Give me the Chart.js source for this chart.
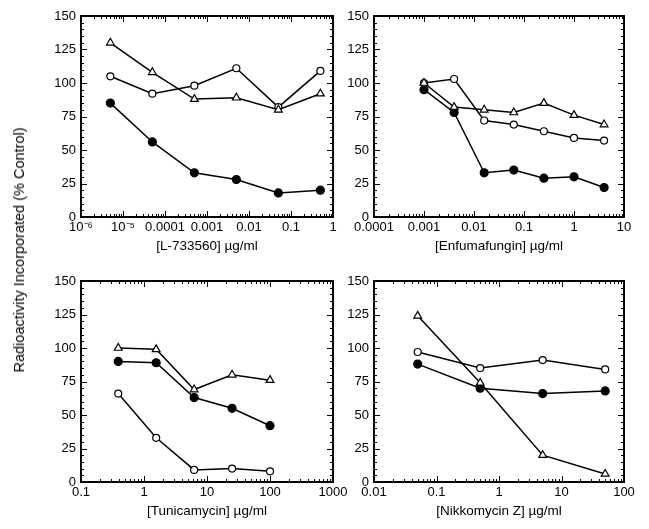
<!DOCTYPE html>
<html>
<head>
<meta charset="utf-8">
<script src="https://cdn.jsdelivr.net/npm/chart.js@4.4.1/dist/chart.umd.min.js"></script>
<style>
  body { margin: 0; background: #fff; }
  #wrap { position: relative; width: 649px; height: 529px; }
  canvas { position: absolute; left: 0; top: 0; }
  #ylab {
    position: absolute; left: 19px; top: 250px;
    transform: translate(-50%, -50%) rotate(-90deg);
    font: 14.5px "Liberation Sans", Arial, sans-serif;
    white-space: nowrap; color: #000;
  }
</style>
</head>
<body>
<div id="wrap">
  <canvas id="c1" width="649" height="529"></canvas>
  <canvas id="c2" width="649" height="529"></canvas>
  <canvas id="c3" width="649" height="529"></canvas>
  <canvas id="c4" width="649" height="529"></canvas>
  <div id="ylab">Radioactivity Incorporated (% Control)</div>
</div>
<script>
// L-733560
const l733Doses = [5e-6, 5e-5, 5e-4, 5e-3, 5e-2, 0.5];
const l733Triangle = [130, 108, 88, 89, 80, 92];
const l733Open = [105, 92, 98, 111, 82, 109];
const l733Filled = [85, 56, 33, 28, 18, 20];
const l733Ticks = [1e-6, 1e-5, 1e-4, 1e-3, 1e-2, 0.1, 1];
const l733TickLabels = ["10⁻⁶", "10⁻⁵", "0.0001", "0.001", "0.01", "0.1", "1"];

// Enfumafungin
const enfDoses = [0.001, 0.004, 0.016, 0.0625, 0.25, 1, 4];
const enfTriangle = [100, 82, 80, 78, 85, 76, 69];
const enfOpen = [100, 103, 72, 69, 64, 59, 57];
const enfFilled = [95, 78, 33, 35, 29, 30, 22];
const enfTicks = [1e-4, 1e-3, 1e-2, 0.1, 1, 10];
const enfTickLabels = ["0.0001", "0.001", "0.01", "0.1", "1", "10"];

// Tunicamycin
const tunDoses = [0.39, 1.56, 6.25, 25, 100];
const tunTriangle = [100, 99, 69, 80, 76];
const tunOpen = [66, 33, 9, 10, 8];
const tunFilled = [90, 89, 63, 55, 42];
const tunTicks = [0.1, 1, 10, 100, 1000];
const tunTickLabels = ["0.1", "1", "10", "100", "1000"];

// Nikkomycin Z
const nikDoses = [0.05, 0.5, 5, 50];
const nikTriangle = [124, 74, 20, 6];
const nikOpen = [97, 85, 91, 84];
const nikFilled = [88, 70, 66, 68];
const nikTicks = [0.01, 0.1, 1, 10, 100];
const nikTickLabels = ["0.01", "0.1", "1", "10", "100"];

const yTicks = [0, 25, 50, 75, 100, 125, 150];

Chart.defaults.font.family = '"Liberation Sans", Arial, sans-serif';
Chart.defaults.color = "#000";

// box with inward ticks on all four sides
const framePlugin = {
  id: "frame",
  beforeDatasetsDraw(chart) {
    const { ctx, chartArea: a, scales: { x, y } } = chart;
    ctx.save();
    ctx.strokeStyle = "#000";
    ctx.lineWidth = 1;
    ctx.beginPath();
    const lo = Math.round(Math.log10(x.min));
    const hi = Math.round(Math.log10(x.max));
    for (let e = lo; e < hi; e++) {
      for (let m = 1; m < 10; m++) {
        const px = Math.round(x.getPixelForValue(m * Math.pow(10, e))) + 0.5;
        const len = m === 1 ? 6 : 3;
        ctx.moveTo(px, a.bottom); ctx.lineTo(px, a.bottom - len);
        ctx.moveTo(px, a.top); ctx.lineTo(px, a.top + len);
      }
    }
    for (let v = 0; v <= 150; v += 5) {
      const py = Math.round(y.getPixelForValue(v)) + 0.5;
      const len = v % 25 === 0 ? 6 : 3;
      ctx.moveTo(a.left, py); ctx.lineTo(a.left + len, py);
      ctx.moveTo(a.right, py); ctx.lineTo(a.right - len, py);
    }
    ctx.stroke();
    ctx.lineWidth = 2;
    ctx.strokeRect(a.left, a.top, a.right - a.left, a.bottom - a.top);
    ctx.restore();
  },
};

function series(doses, vals, style, fill, radius) {
  return {
    data: doses.map((d, i) => ({ x: d, y: vals[i] })),
    borderColor: "#000",
    borderWidth: 1.5,
    pointStyle: style,
    pointRadius: radius,
    pointBorderWidth: 1.2,
    pointBackgroundColor: fill,
    pointBorderColor: "#000",
    tension: 0,
  };
}

function panel(id, area, doses, tri, open, filled, ticks, tickLabels, title) {
  const yW = 45, xH = 37;
  new Chart(document.getElementById(id), {
    type: "line",
    data: {
      datasets: [
        series(doses, tri, "triangle", "#fff", 4.5),
        series(doses, open, "circle", "#fff", 3.5),
        series(doses, filled, "circle", "#000", 4),
      ],
    },
    options: {
      responsive: false,
      animation: false,
      layout: {
        padding: { left: area.l - yW, top: area.t, right: 649 - area.r, bottom: 529 - area.b - xH },
      },
      plugins: { legend: { display: false }, tooltip: { enabled: false } },
      scales: {
        x: {
          type: "logarithmic",
          min: ticks[0],
          max: ticks[ticks.length - 1],
          grid: { display: false, drawTicks: false },
          border: { display: false },
          afterBuildTicks: (s) => { s.ticks = ticks.map((v) => ({ value: v })); },
          afterFit: (s) => { s.height = xH; },
          ticks: {
            autoSkip: false, maxRotation: 0, padding: 3,
            font: { size: 13 },
            callback: (v, i) => tickLabels[i],
          },
          title: { display: true, text: title, font: { size: 13.5 }, padding: 0 },
        },
        y: {
          min: 0,
          max: 150,
          grid: { display: false, drawTicks: false },
          border: { display: false },
          afterBuildTicks: (s) => { s.ticks = yTicks.map((v) => ({ value: v })); },
          afterFit: (s) => { s.width = yW; },
          ticks: { padding: 5, font: { size: 13 } },
        },
      },
    },
    plugins: [framePlugin],
  });
}

panel("c1", { l: 81, t: 16, r: 333, b: 217 }, l733Doses, l733Triangle, l733Open, l733Filled,
  l733Ticks, l733TickLabels, "[L-733560] µg/ml");
panel("c2", { l: 374, t: 16, r: 624, b: 217 }, enfDoses, enfTriangle, enfOpen, enfFilled,
  enfTicks, enfTickLabels, "[Enfumafungin] µg/ml");
panel("c3", { l: 81, t: 281, r: 333, b: 482 }, tunDoses, tunTriangle, tunOpen, tunFilled,
  tunTicks, tunTickLabels, "[Tunicamycin] µg/ml");
panel("c4", { l: 374, t: 281, r: 624, b: 482 }, nikDoses, nikTriangle, nikOpen, nikFilled,
  nikTicks, nikTickLabels, "[Nikkomycin Z] µg/ml");
</script>
</body>
</html>
